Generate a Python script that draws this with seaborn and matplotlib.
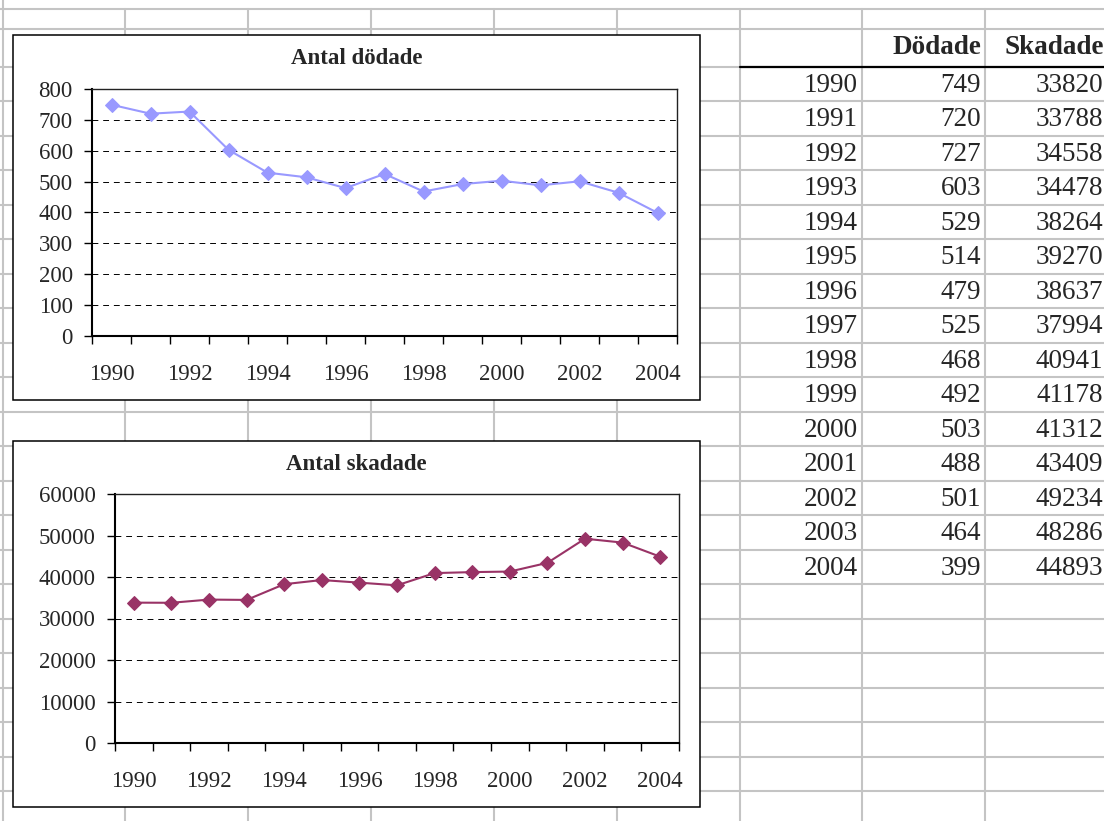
import matplotlib
matplotlib.use('Agg')
import matplotlib.pyplot as plt
from matplotlib.patches import Rectangle
from matplotlib.ticker import FixedLocator, NullFormatter
import pandas as pd
import seaborn as sns

# Data
years = list(range(1990, 2005))
dodade = [749, 720, 727, 603, 529, 514, 479, 525, 468, 492, 503, 488, 501, 464, 399]
skadade = [33820, 33788, 34558, 34478, 38264, 39270, 38637, 37994, 40941, 41178,
           41312, 43409, 49234, 48286, 44893]
titles = ['Antal dödade', 'Antal skadade']
headers = ['Dödade', 'Skadade']

df = pd.DataFrame({'Ar': years, 'Dodade': dodade, 'Skadade': skadade})

sns.set_style('white')
plt.rcParams['font.family'] = ['Liberation Serif', 'DejaVu Serif']

W, H = 1104, 821
fig = plt.figure(figsize=(W / 100, H / 100), dpi=100)

# Spreadsheet background (pixel coordinates)
bg = fig.add_axes([0, 0, 1, 1])
bg.set_xlim(0, W)
bg.set_ylim(H, 0)
bg.axis('off')

grid_c = '#c4c4c4'
col_x = [3, 125, 248, 371, 494, 617, 740, 862, 985]
row_y = [9, 29] + [67 + 34.5 * k for k in range(23)]
for y in row_y:
    bg.plot([0, W], [y, y], color=grid_c, lw=1.5, zorder=1)
for x in col_x:
    bg.plot([x, x], [0 if x < 10 else 9, H], color=grid_c, lw=1.5, zorder=1)

# header underline
bg.plot([740, W], [67, 67], color='black', lw=1.6, zorder=2)

# chart boxes
for top, bottom in [(35, 400), (441, 807)]:
    bg.add_patch(Rectangle((13, top), 687, bottom - top, facecolor='white',
                           edgecolor='black', lw=1.1, zorder=3))
fs_title = 16.5
bg.text(356.5, 58, titles[0], ha='center', va='center', weight='bold', size=fs_title, zorder=4)
bg.text(356.5, 464, titles[1], ha='center', va='center', weight='bold', size=fs_title, zorder=4)

# table
fs_tab = 19.5
bg.text(981, 47, headers[0], ha='right', va='center', weight='bold', size=fs_tab, zorder=4)
bg.text(1104, 47, headers[1], ha='right', va='center', weight='bold', size=fs_tab, zorder=4)
for k, row in df.iterrows():
    yc = 67 + 34.5 * (k + 0.5) + 1
    bg.text(858, yc, str(row['Ar']), ha='right', va='center', size=fs_tab, zorder=4)
    bg.text(981, yc, str(row['Dodade']), ha='right', va='center', size=fs_tab, zorder=4)
    bg.text(1103, yc, str(row['Skadade']), ha='right', va='center', size=fs_tab, zorder=4)

fs_tick = 16.5


def style(ax, ymax, ystep):
    ax.set_xlim(years[0] - 0.5, years[-1] + 0.5)
    ax.set_ylim(0, ymax)
    ax.set_yticks(range(0, ymax + 1, ystep))
    ax.xaxis.set_major_locator(FixedLocator([y - 0.5 for y in years] + [years[-1] + 0.5]))
    ax.xaxis.set_major_formatter(NullFormatter())
    ax.xaxis.set_minor_locator(FixedLocator(years[::2]))
    ax.set_xticklabels([str(y) for y in years[::2]], minor=True)
    ax.tick_params(axis='both', which='major', direction='out', length=5.8, width=1,
                   color='black', bottom=True, left=True)
    ax.tick_params(axis='x', which='minor', length=0, pad=20, labelsize=fs_tick, bottom=True)
    ax.tick_params(axis='y', pad=8, labelsize=fs_tick)
    ax.grid(True, axis='y', linestyle=(0, (6, 5)), color='black', lw=0.7)
    ax.set_xlabel('')
    ax.set_ylabel('')
    for s in ['left', 'bottom']:
        ax.spines[s].set_color('black')
        ax.spines[s].set_linewidth(1.5)
    for s in ['top', 'right']:
        ax.spines[s].set_color('#222222')
        ax.spines[s].set_linewidth(1.0)


# Chart 1: Antal dödade
ax1 = fig.add_axes([92 / W, 1 - 336 / H, 585 / W, 247 / H])
sns.lineplot(data=df, x='Ar', y='Dodade', ax=ax1, color='#9999ff', marker='D',
             markersize=7.5, markeredgecolor='#9999ff', linewidth=1.5)
style(ax1, 800, 100)

# Chart 2: Antal skadade
ax2 = fig.add_axes([115 / W, 1 - 743 / H, 564 / W, 249 / H])
sns.lineplot(data=df, x='Ar', y='Skadade', ax=ax2, color='#993366', marker='D',
             markersize=7.5, markeredgecolor='#993366', linewidth=1.5)
style(ax2, 60000, 10000)

fig.savefig('out.png', dpi=100)
